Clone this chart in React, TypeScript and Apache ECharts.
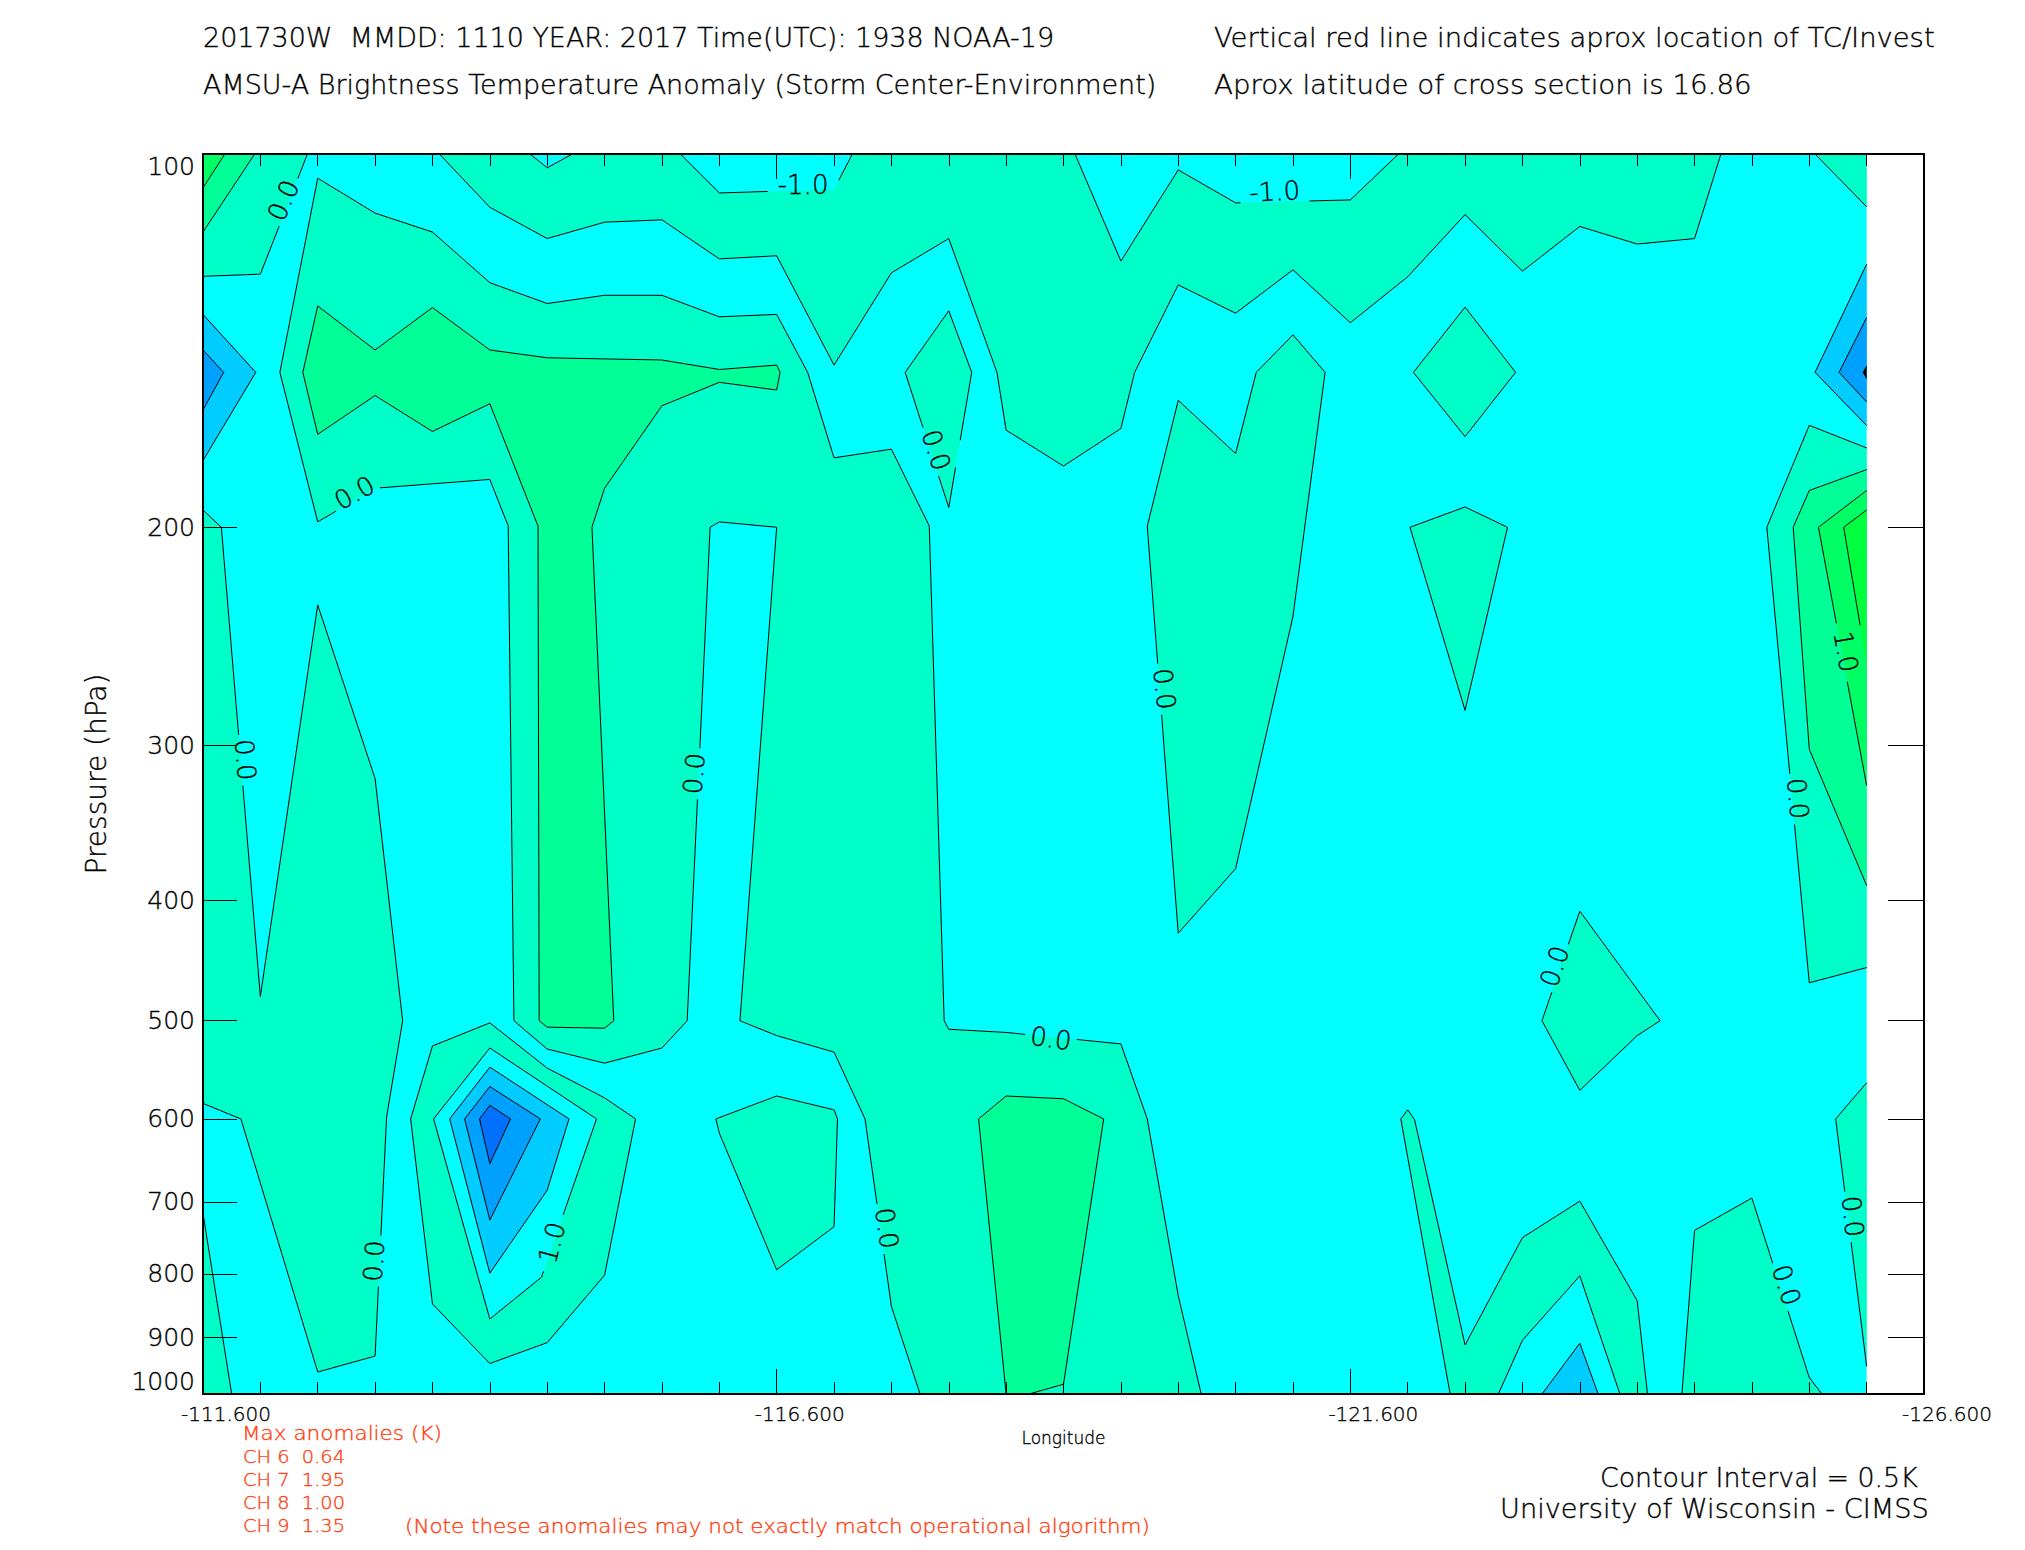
import React, { useEffect, useRef } from "react";
import * as echarts from "echarts";

type Pt = [number, number];

const lonMajorTicks = [-111.6, -116.6, -121.6, -126.6];
const lonMinorTicks = [-111.6, -112.1, -112.6, -113.1, -113.6, -114.1, -114.6, -115.1, -115.6, -116.1, -116.6, -117.1, -117.6, -118.1, -118.6, -119.1, -119.6, -120.1, -120.6, -121.1, -121.6, -122.1, -122.6, -123.1, -123.6, -124.1, -124.6, -125.1, -125.6, -126.1, -126.6];
const pressureTicks = [100, 200, 300, 400, 500, 600, 700, 800, 900, 1000];

const LON_W = -111.6;
const LON_E = -126.1;

const S1 = "#00ffc8";
const S2 = "#00ff96";
const S3 = "#00ff64";
const S4 = "#00ff3c";
const CY = "#00ffff";
const B1 = "#00ccff";
const B2 = "#00a0ff";
const B3 = "#0070ff";

// ---- Contour regions, [longitude, pressure hPa]
const cornerTL: Pt[] = [[-111.6, 100], [-112.51, 100], [-112.1, 125], [-111.6, 125.5]];
const cornerTL2: Pt[] = [[-111.6, 100], [-112.05, 100], [-111.6, 115.6]];
const cornerTL3: Pt[] = [[-111.6, 100], [-111.79, 100], [-111.6, 106.5]];
const bigBody: Pt[] = [[-112.6, 104.6], [-113.1, 111.6], [-113.6, 115.6], [-114.1, 127], [-114.6, 132], [-115.1, 130], [-115.6, 130], [-116.1, 135.3], [-116.6, 134.7], [-116.87, 150], [-117.1, 175.8], [-117.6, 173], [-117.93, 199.5], [-118.06, 500], [-118.1, 508], [-118.6, 511], [-119.6, 522], [-119.83, 600], [-120.1, 833], [-120.3, 1000], [-117.85, 1000], [-117.6, 850], [-117.37, 600], [-117.1, 530], [-116.6, 514], [-116.28, 500], [-116.6, 200], [-116.1, 198], [-116.02, 200], [-115.82, 500], [-115.6, 526], [-115.1, 541], [-114.6, 527], [-114.31, 500], [-114.26, 199.5], [-114.1, 183], [-113.1, 186], [-112.6, 198], [-112.27, 150]];
const topBand: Pt[] = [[-113.66, 100], [-114.1, 110.4], [-114.6, 117], [-115.1, 113.5], [-115.6, 113], [-116.1, 121.5], [-116.6, 120.8], [-117.1, 148], [-117.6, 124.7], [-118.1, 117], [-118.52, 150], [-118.6, 167], [-119.1, 178.5], [-119.6, 166.5], [-119.72, 150], [-120.1, 127.5], [-120.6, 134.4], [-121.1, 124], [-121.6, 136.8], [-122.1, 125.6], [-122.6, 111.9], [-123.1, 124.3], [-123.6, 114.4], [-124.1, 118.2], [-124.6, 117], [-124.83, 100], [-122.02, 100], [-121.6, 108.9], [-120.6, 109.5], [-120.1, 103], [-119.6, 122], [-119.2, 100], [-117.26, 100], [-117.1, 106.8], [-116.1, 107.5], [-115.76, 100], [-114.82, 100], [-114.6, 102.6], [-114.45, 100]];
const cornerTR: Pt[] = [[-125.65, 100], [-126.1, 100], [-126.1, 110.3]];
const blueLeft1: Pt[] = [[-111.6, 134.7], [-112.06, 150], [-111.6, 176.7]];
const blueLeft2: Pt[] = [[-111.6, 143.9], [-111.78, 150], [-111.6, 160.9]];
const blueRight1: Pt[] = [[-126.1, 122.7], [-125.65, 150], [-126.1, 165.6]];
const blueRight2: Pt[] = [[-126.1, 135.5], [-125.86, 150], [-126.1, 158.5]];
const blueRight3: Pt[] = [[-126.1, 148.3], [-126.07, 150], [-126.1, 151.7]];
const rightGreen1: Pt[] = [[-126.1, 172.6], [-125.6, 165.5], [-125.23, 200], [-125.6, 466], [-126.1, 453]];
const rightGreen2: Pt[] = [[-126.1, 179.7], [-125.6, 186.8], [-125.46, 200], [-125.6, 302], [-126.1, 389]];
const rightGreen3: Pt[] = [[-126.1, 186.8], [-125.68, 200], [-126.1, 323]];
const rightGreen4: Pt[] = [[-126.1, 193.7], [-125.9, 200], [-126.1, 258]];
const stemGreen: Pt[] = [[-112.6, 132.6], [-113.1, 143.9], [-113.6, 133], [-114.1, 143.9], [-114.6, 146], [-115.6, 146.6], [-116.1, 149.2], [-116.6, 148], [-116.63, 150], [-116.6, 155], [-116.1, 152.8], [-115.6, 159.6], [-115.1, 186], [-114.99, 200], [-115.18, 500], [-115.1, 507], [-114.6, 506], [-114.53, 500], [-114.52, 199.6], [-114.1, 159], [-113.6, 167.4], [-113.1, 156.6], [-112.6, 168.3], [-112.47, 150]];
const diamondA: Pt[] = [[-118.1, 133.8], [-118.3, 150], [-118.1, 192.8], [-117.72, 150]];
const wedge: Pt[] = [[-120.1, 158], [-120.6, 174.4], [-120.78, 150], [-121.1, 139.9], [-121.38, 150], [-121.1, 236], [-120.6, 377], [-120.1, 425], [-119.83, 199.6]];
const diamondB: Pt[] = [[-122.6, 132.9], [-123.04, 150], [-122.6, 169], [-122.15, 150]];
const kite: Pt[] = [[-122.6, 192.6], [-122.97, 200], [-122.6, 281], [-122.12, 200]];
const midRight: Pt[] = [[-123.6, 408], [-124.3, 500], [-124.1, 514], [-123.6, 569], [-123.27, 500]];
const bottomArch: Pt[] = [[-122.1, 590], [-122.16, 601], [-122.6, 913], [-123.1, 748], [-123.6, 699], [-124.1, 841], [-124.19, 1000], [-123.95, 1000], [-123.6, 803], [-123.1, 905], [-122.89, 1000], [-122.47, 1000], [-122.04, 600]];
const bottomBlue: Pt[] = [[-123.27, 1000], [-123.6, 910], [-123.76, 1000]];
const bottomRight: Pt[] = [[-124.49, 1000], [-124.6, 738], [-125.1, 695], [-125.6, 970], [-125.71, 1000]];
const edgeRight: Pt[] = [[-126.1, 561], [-125.83, 600], [-126.1, 950]];
const pentagon: Pt[] = [[-116.07, 600], [-116.1, 616], [-116.6, 794], [-117.1, 733], [-117.13, 600], [-117.1, 590], [-116.6, 575]];
const greenCup: Pt[] = [[-118.36, 600], [-118.6, 575], [-119.1, 578], [-119.45, 600], [-119.1, 982], [-118.8, 1000], [-118.6, 1000]];
const blobRing: Pt[] = [[-114.1, 502], [-114.6, 546], [-115.1, 577], [-115.37, 600], [-115.1, 802], [-114.6, 909], [-114.1, 945], [-113.6, 846], [-113.41, 600], [-113.6, 524]];
const blobCyan: Pt[] = [[-114.1, 526], [-115.03, 600], [-114.55, 805], [-114.1, 870], [-113.61, 600]];
const blobBlue1: Pt[] = [[-113.75, 600], [-114.1, 545], [-114.79, 600], [-114.6, 685], [-114.1, 799]];
const blobBlue2: Pt[] = [[-113.88, 600], [-114.1, 565], [-114.54, 600], [-114.1, 724]];
const blobBlue3: Pt[] = [[-114.01, 600], [-114.1, 585], [-114.28, 600], [-114.1, 652]];
const leftColumn: Pt[] = [[-111.6, 193.7], [-111.76, 200], [-112.1, 478], [-112.6, 231], [-113.1, 319], [-113.34, 500], [-113.2, 598], [-113.1, 932], [-112.6, 960], [-111.93, 600], [-111.6, 583]];
const cornerBL: Pt[] = [[-111.6, 715], [-111.85, 1000], [-111.6, 1000]];
const domain: Pt[] = [[LON_W, 100], [LON_E, 100], [LON_E, 1000], [LON_W, 1000]];

const bands: { pts: Pt[]; fill: string }[] = [
  { pts: domain, fill: CY },
  { pts: cornerTL, fill: S1 }, { pts: cornerTL2, fill: S2 }, { pts: cornerTL3, fill: S3 },
  { pts: bigBody, fill: S1 }, { pts: topBand, fill: S1 }, { pts: cornerTR, fill: S1 },
  { pts: stemGreen, fill: S2 }, { pts: diamondA, fill: S1 }, { pts: wedge, fill: S1 },
  { pts: diamondB, fill: S1 }, { pts: kite, fill: S1 }, { pts: midRight, fill: S1 },
  { pts: bottomArch, fill: S1 }, { pts: bottomBlue, fill: B1 }, { pts: bottomRight, fill: S1 },
  { pts: edgeRight, fill: S1 }, { pts: pentagon, fill: S1 }, { pts: greenCup, fill: S2 },
  { pts: leftColumn, fill: S1 }, { pts: cornerBL, fill: S1 },
  { pts: rightGreen1, fill: S1 }, { pts: rightGreen2, fill: S2 }, { pts: rightGreen3, fill: S3 }, { pts: rightGreen4, fill: S4 },
  { pts: blueLeft1, fill: B1 }, { pts: blueLeft2, fill: B2 },
  { pts: blueRight1, fill: B1 }, { pts: blueRight2, fill: B2 }, { pts: blueRight3, fill: "#000000" },
  { pts: blobRing, fill: S1 }, { pts: blobCyan, fill: CY }, { pts: blobBlue1, fill: B1 }, { pts: blobBlue2, fill: B2 }, { pts: blobBlue3, fill: B3 },
];

// [lon, pressure, text, rotation in degrees]
const contourLabels: [number, number, string, number][] = [
  [-112.3, 109, "0.0", 66],
  [-116.83, 105.9, "-1.0", 0],
  [-112.92, 187.6, "0.0", 29],
  [-111.97, 308, "0.0", -85],
  [-117.99, 173.3, "0.0", -72],
  [-115.88, 316, "0.0", 85],
  [-119.98, 270, "0.0", -84],
  [-118.99, 516.7, "0.0", -8],
  [-117.56, 735, "0.0", -82],
  [-123.38, 452, "0.0", 72],
  [-125.5, 331, "0.0", -85],
  [-125.4, 817, "0.0", -72],
  [-125.98, 719, "0.0", -84],
  [-113.09, 781, "0.0", 86],
  [-120.94, 107.2, "-1.0", 3],
  [-114.64, 755, "1.0", 75],
  [-125.92, 252, "1.0", -80],
];

const headerTexts: [string, number, number, number, number][] = [
  ["201730W  MMDD: 1110 YEAR: 2017 Time(UTC): 1938 NOAA-19", 203, 38, 852, 26],
  ["AMSU-A Brightness Temperature Anomaly (Storm Center-Environment)", 203, 85, 954, 26],
  ["Vertical red line indicates aprox location of TC/Invest", 1214, 38, 721, 26],
  ["Aprox latitude of cross section is 16.86", 1214, 85, 538, 26],
  ["Contour Interval = 0.5K", 1600, 1478, 318, 26],
  ["University of Wisconsin - CIMSS", 1500, 1509, 429, 26],
];
const RED = "#ff4010";
const redTexts: [string, number, number, number, number][] = [
  ["Max anomalies (K)", 242, 1433, 200, 20],
  ["CH 6  0.64", 243, 1457, 102, 18],
  ["CH 7  1.95", 243, 1480, 102, 18],
  ["CH 8  1.00", 243, 1503, 102, 18],
  ["CH 9  1.35", 243, 1526, 102, 18],
  ["(Note these anomalies may not exactly match operational algorithm)", 405, 1526, 745, 20],
];

const FONT = '"DejaVu Sans"';
const WEIGHT: any = 200;
const HAIR = 0.35;

function fitScale(text: string, size: number, target: number) {
  const ctx = document.createElement("canvas").getContext("2d")!;
  ctx.font = `${WEIGHT} ${size}px ${FONT}`;
  return target / ctx.measureText(text).width;
}

function subtractCircle(a: number[], b: number[], c: number[], r: number): number[][][] {
  const dx = b[0] - a[0], dy = b[1] - a[1];
  const fx = a[0] - c[0], fy = a[1] - c[1];
  const A = dx * dx + dy * dy;
  if (A === 0) return [[a, b]];
  const B = 2 * (fx * dx + fy * dy);
  const C = fx * fx + fy * fy - r * r;
  const D = B * B - 4 * A * C;
  if (D <= 0) return [[a, b]];
  const s = Math.sqrt(D);
  const t0 = (-B - s) / (2 * A), t1 = (-B + s) / (2 * A);
  if (t1 <= 0 || t0 >= 1) return [[a, b]];
  const out: number[][][] = [];
  if (t0 > 0) out.push([a, [a[0] + dx * t0, a[1] + dy * t0]]);
  if (t1 < 1) out.push([[a[0] + dx * t1, a[1] + dy * t1], b]);
  return out;
}

const onBorder = (p: Pt, q: Pt) =>
  (p[0] === q[0] && (p[0] === LON_W || p[0] === LON_E)) || (p[1] === q[1] && (p[1] === 100 || p[1] === 1000));

const axisBase = { min: -126.6, max: -111.6, inverse: true, type: "value" as const, splitLine: { show: false }, z: 10 };
const yBase = { min: 2, max: 3, inverse: true, type: "value" as const, splitLine: { show: false }, z: 10 };
const lineStyle = { color: "#000", width: 1 };
const darken = { textBorderColor: "#000", textBorderWidth: HAIR };

export default function App() {
  const ref = useRef<HTMLDivElement>(null);
  useEffect(() => {
    document.body.style.margin = "0";
    const chart = echarts.init(ref.current!, null, { renderer: "svg" });
    const renderBand = (_: any, api: any) => {
      const idx = api.value(2);
      const band = bands[idx];
      const toPx = (p: Pt) => api.coord([p[0], Math.log10(p[1])]);
      const px = band.pts.map(toPx);
      const circles = contourLabels.map((l) => {
        const c = api.coord([l[0], Math.log10(l[1])]);
        return { c, r: l[2].length > 3 ? 36 : l[2].startsWith("1") ? 30 : 26 };
      });
      const children: any[] = [{ type: "polygon", shape: { points: px }, style: { fill: band.fill } }];
      if (band.pts !== domain) {
        band.pts.forEach((p, i) => {
          const q = band.pts[(i + 1) % band.pts.length];
          if (onBorder(p, q)) return;
          let segs: number[][][] = [[px[i], px[(i + 1) % px.length]]];
          circles.forEach(({ c, r }) => {
            segs = segs.flatMap((s) => subtractCircle(s[0], s[1], c, r));
          });
          segs.forEach((s) =>
            children.push({
              type: "line",
              shape: { x1: s[0][0], y1: s[0][1], x2: s[1][0], y2: s[1][1] },
              style: { stroke: "#000", lineWidth: 1, fill: "none" },
            })
          );
        });
      }
      return { type: "group", children };
    };
    const renderLabel = (_: any, api: any) => {
      const l = contourLabels[api.value(2)];
      const c = api.coord([l[0], Math.log10(l[1])]);
      return {
        type: "text",
        x: c[0],
        y: c[1],
        rotation: (l[3] * Math.PI) / 180,
        style: { text: l[2], fontSize: 26, fontFamily: FONT, fontWeight: WEIGHT, fill: "#000", stroke: "#000", lineWidth: HAIR, align: "center", verticalAlign: "middle" },
      };
    };
    const texts = [
      ...headerTexts.map((t) => ({ t, color: "#000" })),
      ...redTexts.map((t) => ({ t, color: RED })),
    ];
    chart.setOption({
      animation: false,
      backgroundColor: "#fff",
      grid: { left: 203, top: 154, width: 1721, height: 1240, containLabel: false },
      xAxis: [
        {
          ...axisBase,
          position: "bottom",
          name: "Longitude",
          nameLocation: "middle",
          nameGap: 33,
          nameTextStyle: { fontSize: 17, fontFamily: FONT, fontWeight: WEIGHT, color: "#000", ...darken },
          axisLine: { show: true, lineStyle: { color: "#000", width: 2 } },
          axisTick: { show: true, inside: true, length: 25, customValues: lonMajorTicks, lineStyle },
          axisLabel: {
            show: true,
            customValues: lonMajorTicks,
            formatter: (v: number) => v.toFixed(3),
            fontSize: 20,
            fontFamily: FONT,
            fontWeight: WEIGHT,
            color: "#000",
            margin: 10,
            padding: [0, 0, 0, 46],
            ...darken,
          },
        },
        { ...axisBase, position: "bottom", axisLine: { show: false }, axisLabel: { show: false }, axisTick: { show: true, inside: true, length: 12, customValues: lonMinorTicks, lineStyle } },
        { ...axisBase, position: "top", axisLine: { show: true, lineStyle: { color: "#000", width: 2 } }, axisLabel: { show: false }, axisTick: { show: true, inside: true, length: 25, customValues: lonMajorTicks, lineStyle } },
        { ...axisBase, position: "top", axisLine: { show: false }, axisLabel: { show: false }, axisTick: { show: true, inside: true, length: 12, customValues: lonMinorTicks, lineStyle } },
      ],
      yAxis: [
        {
          ...yBase,
          position: "left",
          name: "Pressure (hPa)",
          nameLocation: "middle",
          nameRotate: 90,
          nameGap: 93,
          nameTextStyle: { fontSize: 28, fontFamily: FONT, fontWeight: WEIGHT, color: "#000", ...darken },
          axisLine: { show: true, lineStyle: { color: "#000", width: 2 } },
          axisTick: { show: true, inside: true, length: 34, customValues: pressureTicks.map(Math.log10), lineStyle },
          axisLabel: {
            show: true,
            customValues: pressureTicks.map(Math.log10),
            formatter: (v: number) => String(Math.round(Math.pow(10, v))),
            fontSize: 25,
            fontFamily: FONT,
            fontWeight: WEIGHT,
            color: "#000",
            margin: 8,
            verticalAlignMinLabel: "top",
            verticalAlignMaxLabel: "bottom",
            ...darken,
          },
        },
        {
          ...yBase,
          position: "right",
          axisLine: { show: true, lineStyle: { color: "#000", width: 2 } },
          axisLabel: { show: false },
          axisTick: { show: true, inside: true, length: 36, customValues: pressureTicks.map(Math.log10), lineStyle },
        },
      ],
      series: [
        {
          type: "custom",
          coordinateSystem: "cartesian2d",
          xAxisIndex: 0,
          yAxisIndex: 0,
          clip: false,
          silent: true,
          z: 2,
          renderItem: renderBand,
          data: bands.map((b, i) => [b.pts[0][0], Math.log10(b.pts[0][1]), i]),
        },
        {
          type: "custom",
          coordinateSystem: "cartesian2d",
          xAxisIndex: 0,
          yAxisIndex: 0,
          clip: false,
          silent: true,
          z: 3,
          renderItem: renderLabel,
          data: contourLabels.map((l, i) => [l[0], Math.log10(l[1]), i]),
        },
      ],
      graphic: texts.map(({ t, color }) => ({
        type: "text",
        x: t[1],
        y: t[2],
        scaleX: fitScale(t[0], t[4], t[3]),
        style: { text: t[0], fontSize: t[4], fontFamily: FONT, fontWeight: WEIGHT, fill: color, stroke: color, lineWidth: HAIR, align: "left", verticalAlign: "middle" },
      })),
    });
    return () => chart.dispose();
  }, []);
  return <div ref={ref} style={{ width: 2025, height: 1550, display: "block" }} />;
}
